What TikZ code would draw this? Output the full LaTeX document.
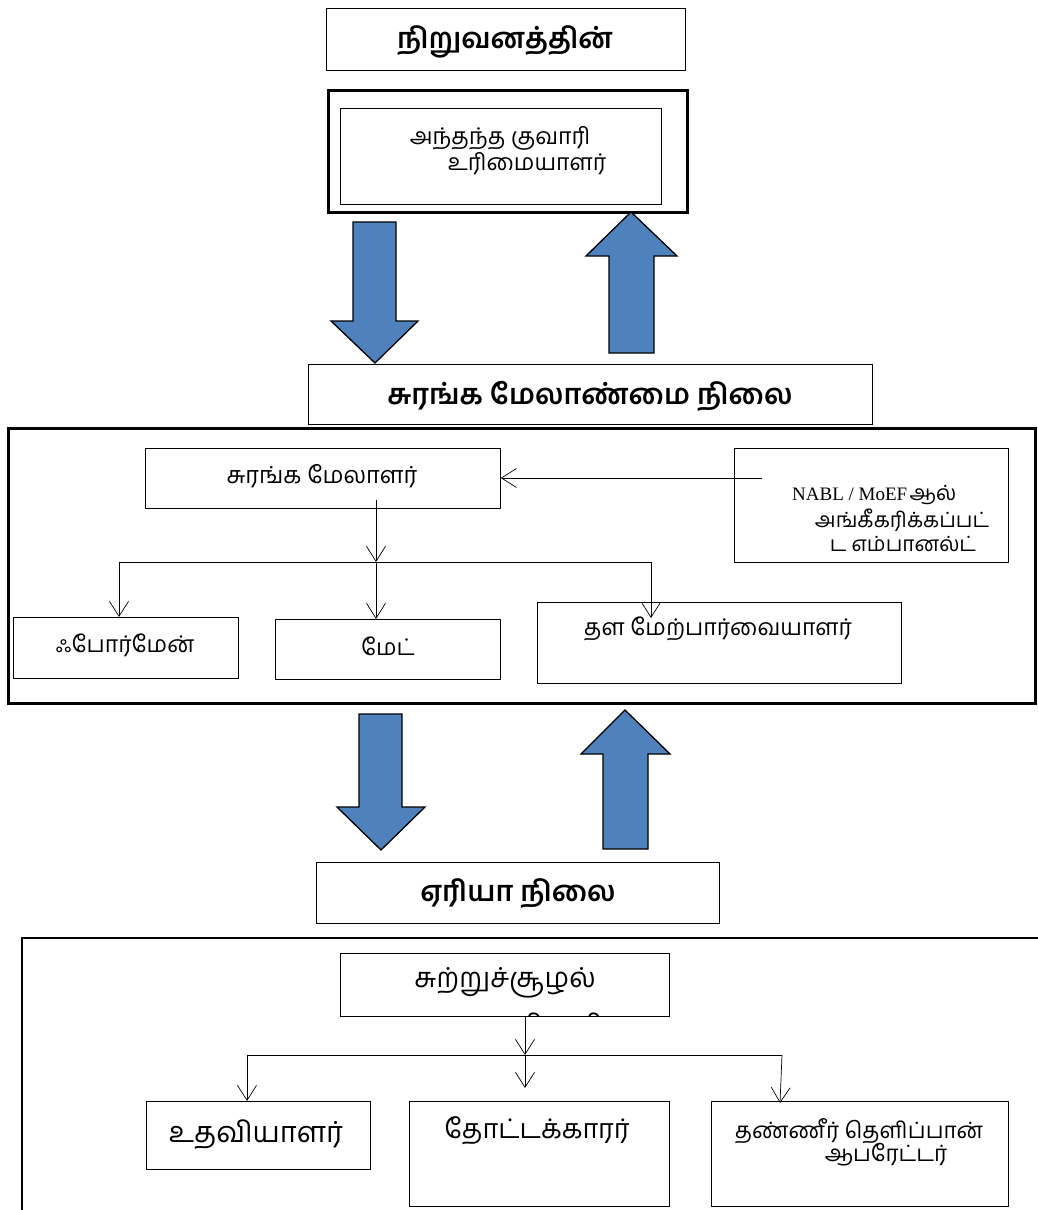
\documentclass[tikz,border=0pt]{standalone}
\usepackage{fontspec}
\usetikzlibrary{arrows.meta}
\newfontfamily\tamil[Script=Tamil]{Hind Madurai}
\newfontfamily\latinserif{Liberation Serif}
\definecolor{arrowblue}{HTML}{4F81BD}
\tikzset{
  box/.style={draw=black, line width=0.8pt, fill=white, anchor=north west, inner sep=0pt},
  thickbox/.style={draw=black, line width=2.6pt, anchor=north west, inner sep=0pt},
  txt/.style={inner sep=0pt, anchor=center, font=\tamil},
  head/.style={inner sep=0pt, anchor=center, font=\tamil\bfseries\fontsize{28.5}{32}\selectfont},
  conn/.style={draw=black, line width=0.7pt},
  tip/.style={conn, -{Straight Barb[length=15pt,width=19pt,line width=0.7pt]}},
  block/.style={fill=arrowblue, draw=black, line width=1.3pt, line join=miter}
}
\newcommand{\tsz}[1]{\fontsize{#1}{#1}\selectfont}
\begin{document}
\begin{tikzpicture}[x=1pt,y=-1pt]
\useasboundingbox (0,0) rectangle (1038,1210);
% ---------- top level
\node[box, minimum width=359pt, minimum height=62pt] (org) at (326,8) {};
\node[head] (orgt) at (505,42) {நிறுவனத்தின்};
\node[thickbox, minimum width=359pt, minimum height=122pt] (owner) at (327,89) {};
\node[box, minimum width=321pt, minimum height=96pt] (ownerin) at (340,108) {};
\node[txt, font=\tamil\tsz{23}] (ownt1) at (500,138) {அந்தந்த குவாரி};
\node[txt, font=\tamil\tsz{23}] (ownt2) at (527,164) {உரிமையாளர்};
% block arrows 1
\draw[block] (353,222) -- (396,222) -- (396,321) -- (418,321) -- (375,363) -- (331,321) -- (353,321) -- cycle;
\draw[block] (609,353) -- (654,353) -- (654,256) -- (677,256) -- (631,212) -- (586,256) -- (609,256) -- cycle;
% ---------- mine management level
\node[box, minimum width=564pt, minimum height=60pt] (mml) at (308,364) {};
\node[head] (mmlt) at (590,396) {சுரங்க மேலாண்மை நிலை};
\node[thickbox, minimum width=1027pt, minimum height=275pt] (mmbig) at (7,427) {};
\node[box, minimum width=355pt, minimum height=60pt] (mgr) at (145,448) {};
\node[txt, font=\tamil\tsz{23.5}] (mgrt) at (322,476) {சுரங்க மேலாளர்};
\node[box, minimum width=274pt, minimum height=114pt] (nabl) at (734,448) {};
\node[txt, anchor=west] (nablt1) at (792,495) {{\latinserif\tsz{19}NABL / MoEF} {\tsz{21}ஆல்}};
\node[txt, font=\tamil\tsz{21}] (nablt2) at (902,520) {அங்கீகரிக்கப்பட்};
\node[txt, font=\tamil\tsz{21}] (nablt3) at (903,544) {ட எம்பானல்ட்};
\node[box, minimum width=225pt, minimum height=61pt] (fore) at (13,617) {};
\node[txt, font=\tamil\tsz{23}] (foret) at (125,645) {ஃபோர்மேன்};
\node[box, minimum width=225pt, minimum height=60pt] (mate) at (275,619) {};
\node[txt, font=\tamil\tsz{23}] (matet) at (388,646) {மேட்};
\node[box, minimum width=364pt, minimum height=81pt] (sup) at (537,602) {};
\node[txt, font=\tamil\tsz{23}] (supt) at (718,629) {தள மேற்பார்வையாளர்};
% connectors
\coordinate (nablsrc) at (762,478);
\coordinate (mgrsrc) at (376,500);
\coordinate (mgrbus) at (376,562);
\coordinate (busL) at (119,562);
\coordinate (busR) at (651,562);
\draw[tip] (nablsrc) -- (mgr.east |- nablsrc);
\draw[tip] (mgrsrc) -- (mgrbus);
\draw[conn] (busL) -- (busR);
\draw[tip] (busL) -- (busL |- fore.north);
\draw[tip] (mgrbus) -- (mgrbus |- mate.north);
\draw[tip] (busR) -- (651,618);
% block arrows 2
\draw[block] (359,714) -- (402,714) -- (402,807) -- (425,807) -- (381,850) -- (337,807) -- (359,807) -- cycle;
\draw[block] (603,849) -- (648,849) -- (648,754) -- (670,754) -- (625,710) -- (581,754) -- (603,754) -- cycle;
% ---------- area level
\node[box, minimum width=403pt, minimum height=61pt] (area) at (316,862) {};
\node[head] (areat) at (518,894) {ஏரியா நிலை};
\coordinate (areabig) at (22,938);
\draw[draw=black, line width=2.6pt] (22,1212) -- (areabig) -- (1040,938);
\node[box, minimum width=329pt, minimum height=63pt] (env) at (340,953) {};
\node[txt, font=\tamil\tsz{27.5}] (envt) at (505,983) {சுற்றுச்சூழல்};
\begin{scope}
\clip (341,954) rectangle (668,1015);
\node[txt, anchor=base west, font=\tamil\tsz{27.5}] (envt2) at (488,1034) {அதிகாரி};
\end{scope}
\node[box, minimum width=224pt, minimum height=68pt] (help) at (146,1101) {};
\node[txt, font=\tamil\tsz{29}] (helpt) at (256,1134) {உதவியாளர்};
\node[box, minimum width=260pt, minimum height=105pt] (gard) at (409,1101) {};
\node[txt, font=\tamil\tsz{27}] (gardt) at (537,1131) {தோட்டக்காரர்};
\node[box, minimum width=297pt, minimum height=105pt] (spr) at (711,1101) {};
\node[txt, font=\tamil\tsz{22.5}] (sprt1) at (859,1131) {தண்ணீர் தெளிப்பான்};
\node[txt, font=\tamil\tsz{22.5}] (sprt2) at (886,1155) {ஆபரேட்டர்};
\coordinate (envbus) at (525,1055);
\coordinate (bus2L) at (247,1055);
\coordinate (bus2R) at (782,1055);
\draw[tip] (env.south -| envbus) -- (envbus);
\draw[conn] (bus2L) -- (bus2R);
\draw[tip] (bus2L) -- (bus2L |- help.north);
\draw[tip] (envbus) -- (525,1088);
\draw[tip] (bus2R) -- (780,1103);
\end{tikzpicture}
\end{document}
